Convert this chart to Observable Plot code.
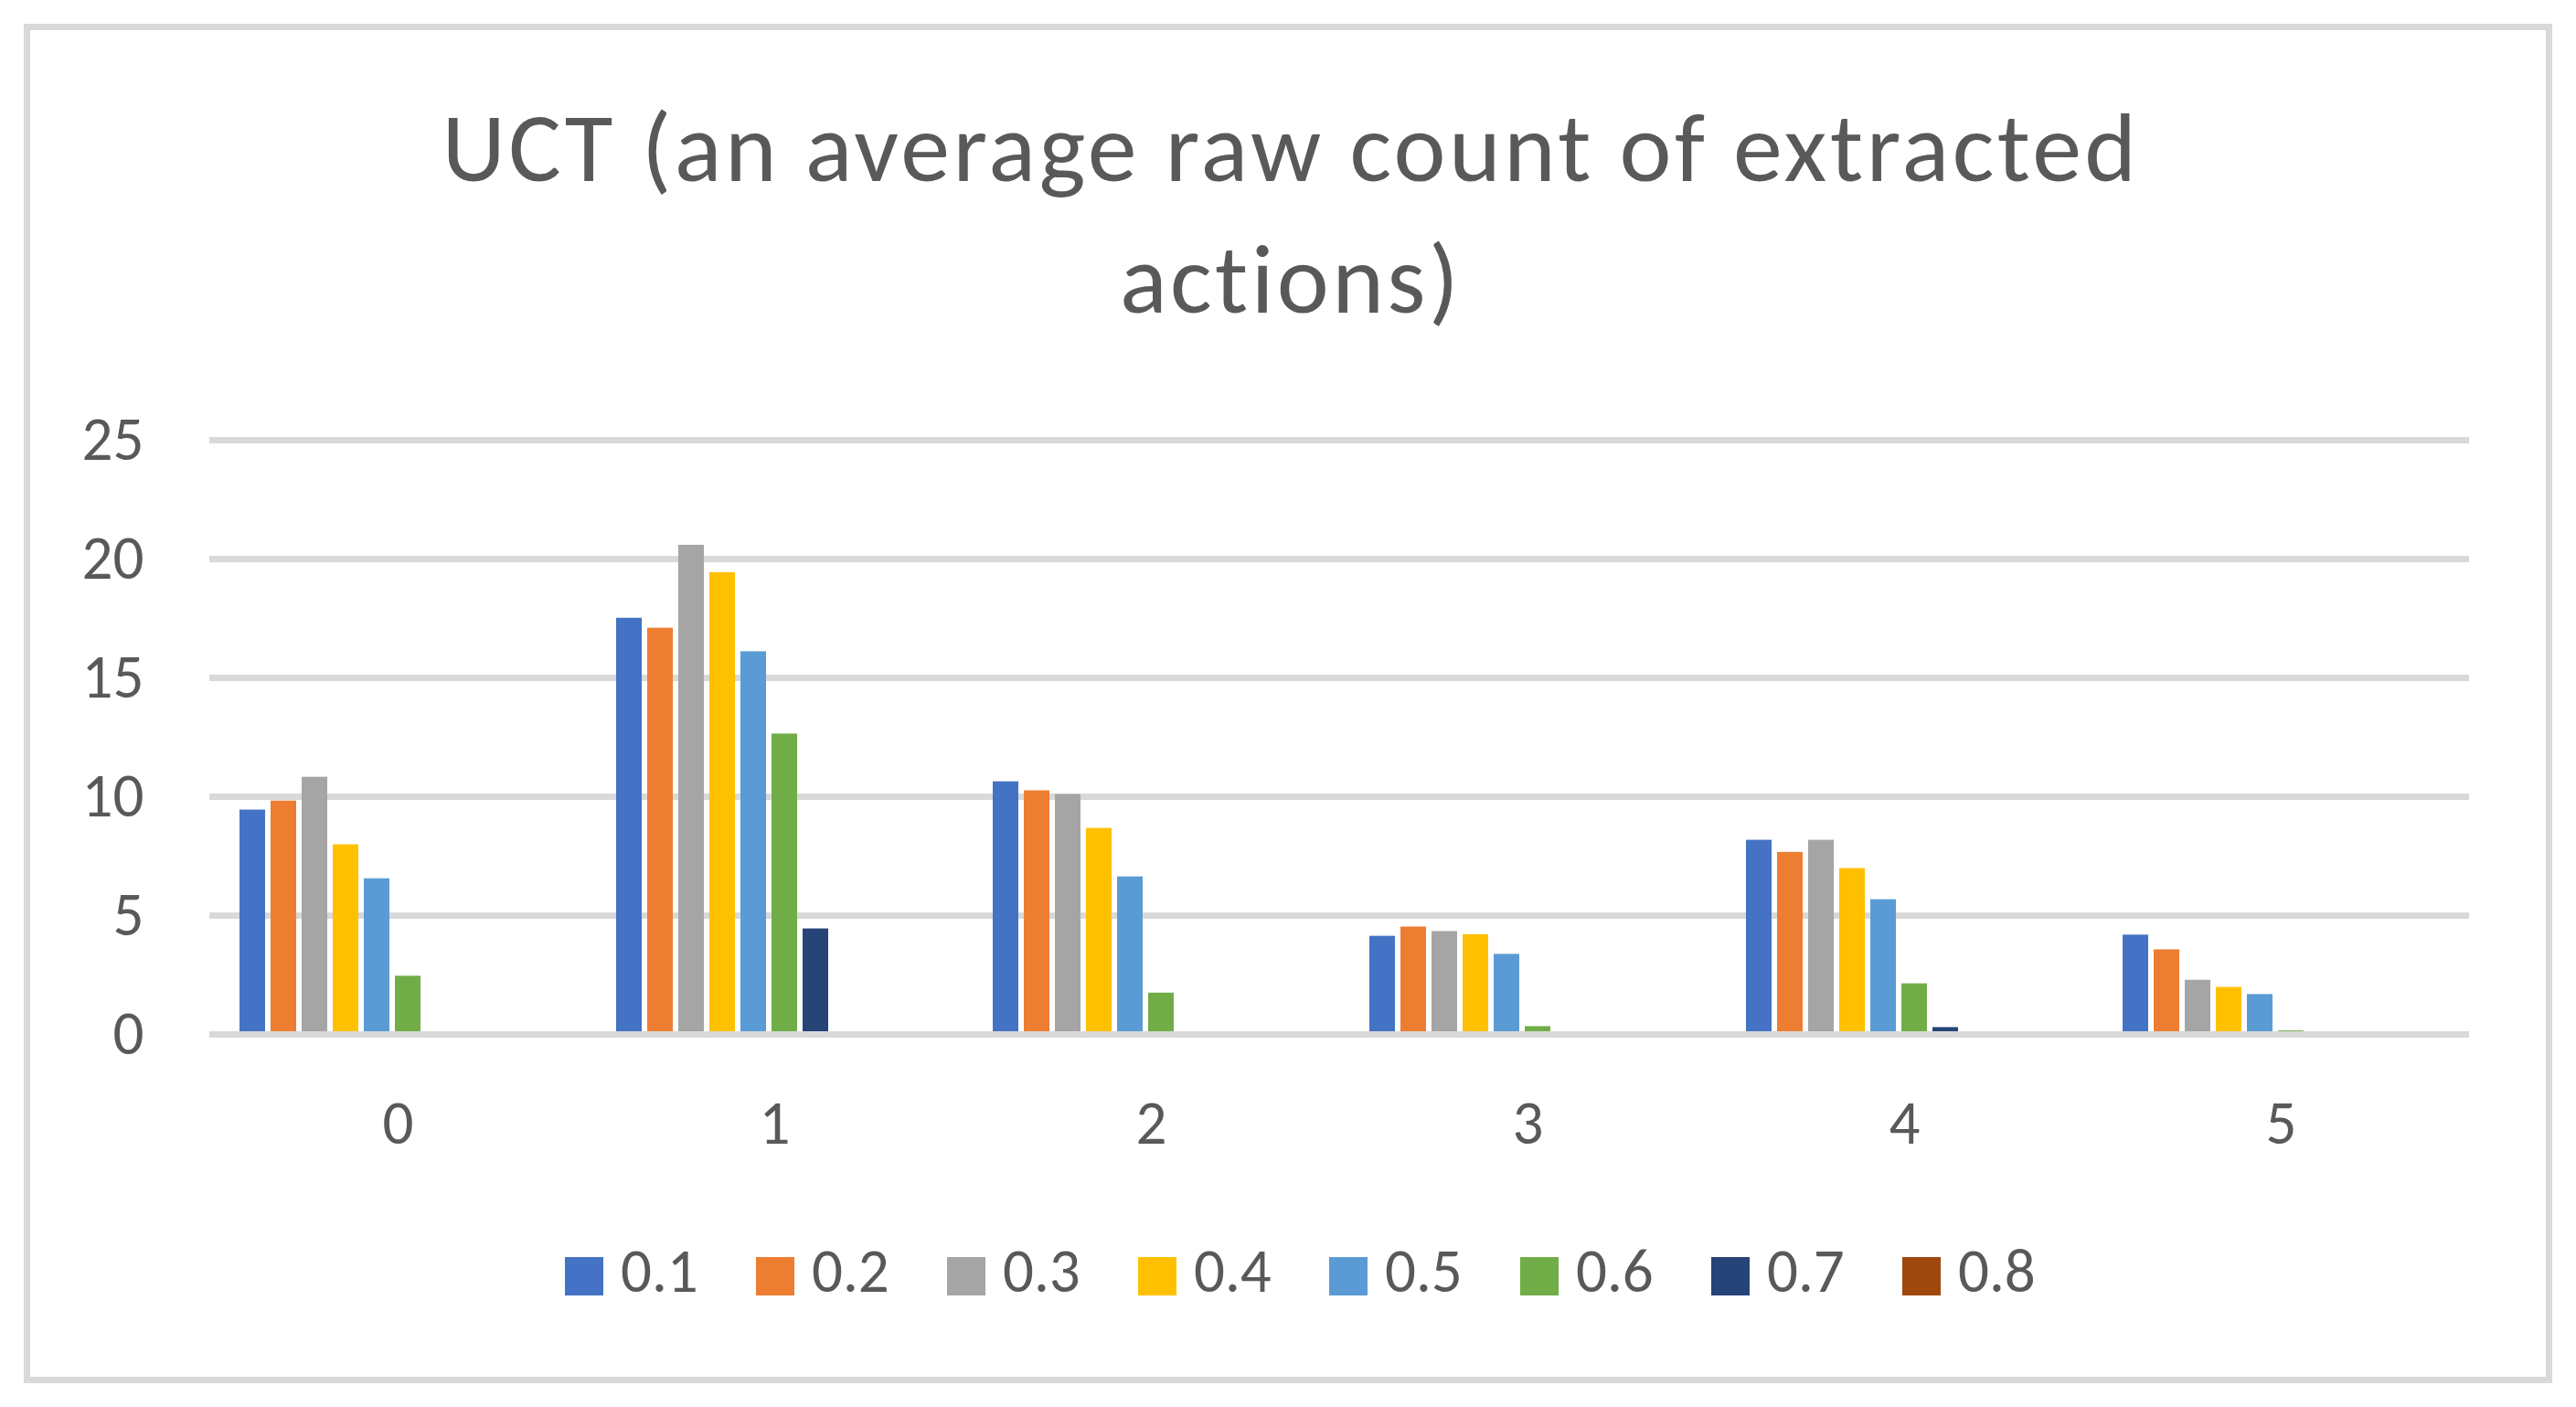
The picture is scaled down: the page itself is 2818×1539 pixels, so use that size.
<!DOCTYPE html>
<html>
<head>
<meta charset="utf-8">
<script src="https://cdn.jsdelivr.net/npm/d3@7"></script>
<script src="https://cdn.jsdelivr.net/npm/@observablehq/plot@0.6"></script>
<style>
  html, body { margin: 0; padding: 0; background: #ffffff; }
  body { width: 2818px; height: 1539px; position: relative; overflow: hidden; font-family: Carlito, Lato, sans-serif; color: #595959; font-variant-ligatures: none; }
  #frame { position: absolute; left: 26px; top: 26px; width: 2766px; height: 1487px; box-sizing: border-box; border: 7px solid #d9d9d9; }
  #title { position: absolute; left: 3px; width: 2818px; top: 89px; text-align: center; font-size: 108px; letter-spacing: 3.4px; line-height: 144px; color: #595959; font-variant-ligatures: none; }
  #chart { position: absolute; left: 0; top: 400px; }
  #legend { position: absolute; left: 618px; top: 1362px; display: flex; }
  .item { display: flex; align-items: center; width: 209px; height: 67px; }
  .sw { width: 42px; height: 42px; margin-right: 19px; flex: none; }
  .lab { font-size: 67px; line-height: 67px; position: relative; top: -5px; color: #595959; }
</style>
</head>
<body>
<div id="frame"></div>
<div id="title">UCT (an average raw count of extracted<br>actions)</div>
<div id="chart"></div>
<div id="legend"></div>
<script>
const titleText = "UCT (an average raw count of extracted actions)";
const categories = ["0", "1", "2", "3", "4", "5"];
const series = ["0.1", "0.2", "0.3", "0.4", "0.5", "0.6", "0.7", "0.8"];
const colors = ["#4472C4", "#ED7D31", "#A5A5A5", "#FFC000", "#5B9BD5", "#70AD47", "#264478", "#9E480E"];
const yTicks = [0, 5, 10, 15, 20, 25];

const s01 = [9.44, 17.51, 10.63, 4.13, 8.17, 4.18];
const s02 = [9.82, 17.09, 10.25, 4.52, 7.66, 3.56];
const s03 = [10.82, 20.58, 10.10, 4.33, 8.17, 2.28];
const s04 = [7.98, 19.43, 8.67, 4.20, 6.98, 1.98];
const s05 = [6.55, 16.10, 6.63, 3.37, 5.67, 1.68];
const s06 = [2.45, 12.64, 1.74, 0.33, 2.13, 0.15];
const s07 = [0, 4.44, 0, 0, 0.29, 0];
const s08 = [0, 0, 0, 0, 0, 0];
const seriesValues = [s01, s02, s03, s04, s05, s06, s07, s08];

const rows = [];
series.forEach((s, i) => {
  categories.forEach((c, j) => {
    rows.push({ category: c, series: s, value: seriesValues[i][j] });
  });
});

const grid = yTicks.filter(d => d !== 0);
const base = yTicks.filter(d => d === 0);

const chart = Plot.plot({
  width: 2818,
  height: 900,
  marginLeft: 229,
  marginRight: 117,
  marginTop: 81,
  marginBottom: 169,
  style: { fontFamily: "Carlito, Lato, sans-serif", fontSize: "67px", color: "#595959", background: "transparent", overflow: "visible" },
  fx: { domain: categories, padding: 0, label: null },
  x: { domain: series, paddingInner: 0.175, paddingOuter: 2.0, align: 0.229, axis: null },
  y: { domain: [0, 25], label: null },
  color: { domain: series, range: colors },
  marks: [
    Plot.ruleY(grid, { y: d => d, stroke: "#d9d9d9", strokeWidth: 7 }),
    Plot.barY(rows, { fx: "category", x: "series", y: "value", fill: "series" }),
    Plot.ruleY(base, { y: d => d, stroke: "#d9d9d9", strokeWidth: 7 }),
    Plot.axisY({ ticks: yTicks, tickSize: 0, tickPadding: 72, label: null, fill: "#595959" }),
    Plot.axisFx({ anchor: "bottom", tickSize: 0, tickPadding: 72, label: null, fill: "#595959" })
  ]
});
document.getElementById("chart").appendChild(chart);

const legend = document.getElementById("legend");
series.forEach((s, i) => {
  const item = document.createElement("div");
  item.className = "item";
  const sw = document.createElement("div");
  sw.className = "sw";
  sw.style.background = colors[i];
  const lab = document.createElement("span");
  lab.className = "lab";
  lab.textContent = s;
  item.appendChild(sw);
  item.appendChild(lab);
  legend.appendChild(item);
});
</script>
</body>
</html>
